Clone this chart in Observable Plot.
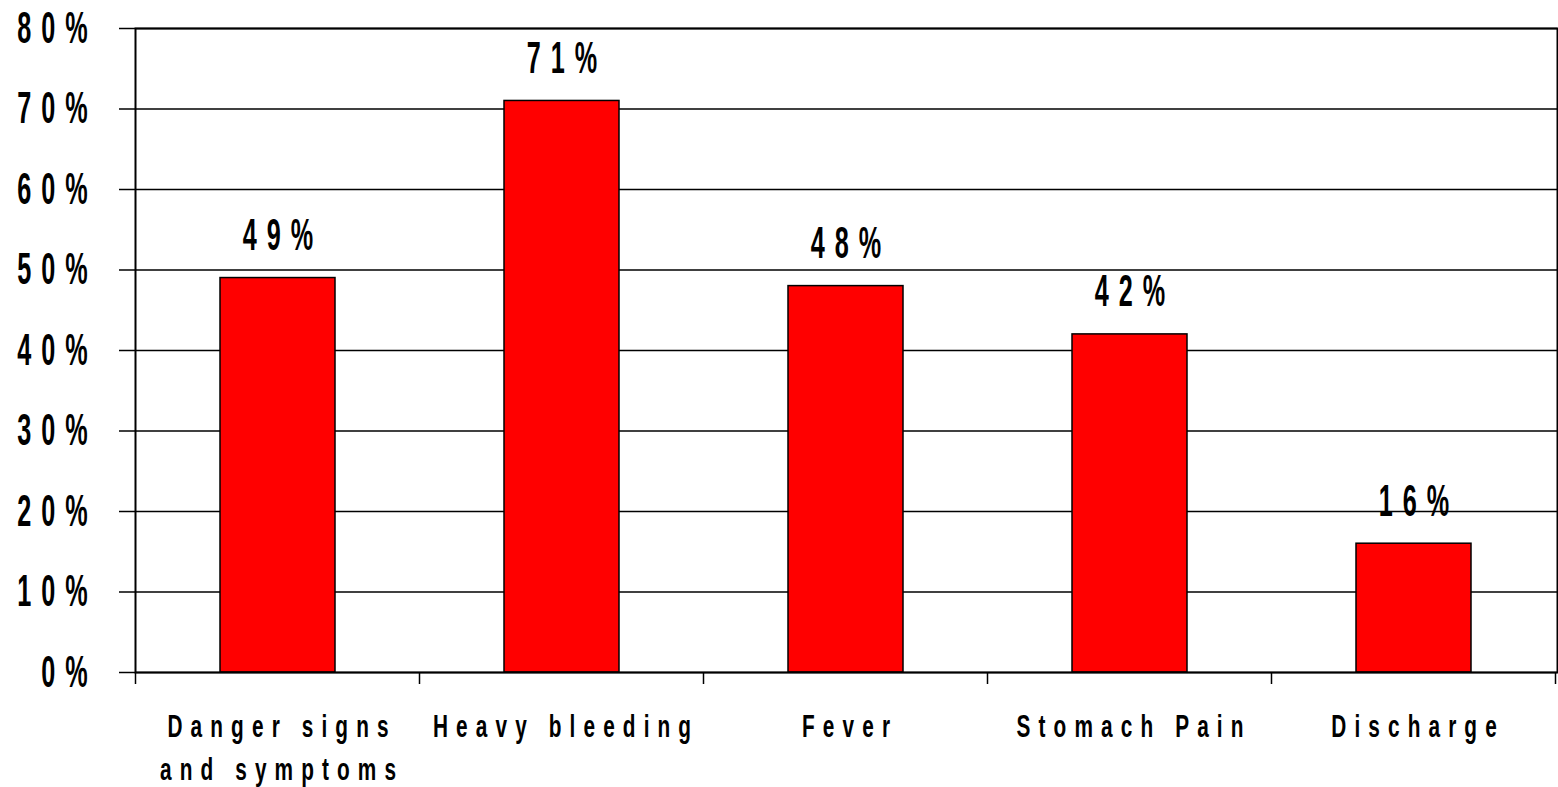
<!DOCTYPE html>
<html><head><meta charset="utf-8">
<script src="https://cdn.jsdelivr.net/npm/d3@7"></script>
<script src="https://cdn.jsdelivr.net/npm/@observablehq/plot@0.6"></script>
<style>body{margin:0;background:#fff} svg{display:block}</style>
</head><body><div id="chart"></div>
<script>
const categories = ["Danger signs\nand symptoms", "Heavy bleeding", "Fever", "Stomach Pain", "Discharge"];
const values = [49, 71, 48, 42, 16];
const valueLabels = ["49%", "71%", "48%", "42%", "16%"];
const yTicks = [0, 10, 20, 30, 40, 50, 60, 70, 80];

const data = categories.map((c, i) => ({category: c, value: values[i], label: valueLabels[i]}));
const FONT = "'Liberation Sans', Arial, sans-serif";

// big labels (ticks, values) and category labels: condensed + letter-spaced
const BIG = {size: 45, sx: 0.56, ls: 17.8};
const CAT = {size: 32, sx: 0.65, ls: 12.5};

const chart = Plot.plot({
  width: 1558, height: 787,
  marginTop: 28, marginBottom: 115, marginLeft: 135, marginRight: 1,
  style: {fontFamily: FONT, fontWeight: "bold", background: "#fff", color: "#000", overflow: "visible"},
  x: {domain: categories, paddingInner: 0.595, paddingOuter: 0.2975, label: null},
  y: {domain: [0, 80], label: null},
  marks: [
    Plot.gridY(yTicks, {stroke: "#000", strokeOpacity: 1, strokeWidth: 1.5}),
    Plot.barY(data, {x: "category", y: "value", fill: "#ff0000", stroke: "#000", strokeWidth: 1.5}),
    Plot.text(data, {x: "category", y: "value", text: "label", dy: -28, dx: BIG.ls * BIG.sx / 2, lineAnchor: "bottom", fontSize: BIG.size, fontWeight: "bold", fill: "#000"}),
    Plot.axisY({ticks: yTicks, tickFormat: d => d + "%", tickSize: 16, tickPadding: 22, fontSize: BIG.size, stroke: "#000", strokeWidth: 1.5, fill: "#000"}),
    Plot.axisX({tickSize: 0, tickPadding: 35, dx: CAT.ls * CAT.sx / 2, fontSize: CAT.size, lineHeight: 1.32, fill: "#000"}),
    Plot.frame({stroke: "#000", strokeWidth: 2})
  ]
});
document.getElementById("chart").appendChild(chart);

const svg = d3.select(chart);
svg.selectAll("text").each(function() {
  const t = d3.select(this);
  const fs = parseFloat(getComputedStyle(this).fontSize) || CAT.size;
  const cfg = fs > 40 ? BIG : CAT;
  const x = +t.attr("x") || 0, y = +t.attr("y") || 0;
  const tr = t.attr("transform") || "";
  t.attr("transform", `${tr} translate(${x},${y}) scale(${cfg.sx},1) translate(${-x},${-y})`);
  t.style("letter-spacing", cfg.ls + "px");
});

// x-axis ticks at the band boundaries, from the library's scales
const xs = chart.scale("x"), ys = chart.scale("y");
const gap = xs.step - xs.bandwidth;
const bounds = categories.map(c => xs.apply(c) - gap / 2);
bounds.push(bounds[bounds.length - 1] + xs.step);
const y0 = ys.apply(0);
svg.append("g").attr("stroke", "#000").attr("stroke-width", 1.5)
  .selectAll("line").data(bounds).join("line")
  .attr("x1", d => d).attr("x2", d => d).attr("y1", y0).attr("y2", y0 + 12);
</script>
</body></html>
